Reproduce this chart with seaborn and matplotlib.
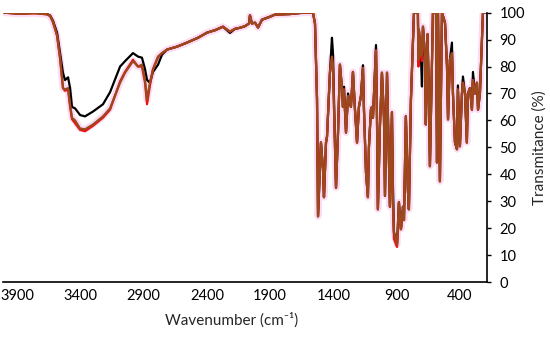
import matplotlib
matplotlib.use("Agg")
import matplotlib.pyplot as plt
import seaborn as sns
import pandas as pd

# wavenumber (cm-1) and transmittance (%) of the three spectra
wavenumber = [
    4000, 3876, 3758, 3663, 3639, 3616, 3584, 3560, 3537, 3521,
    3497, 3481, 3466, 3442, 3402, 3363, 3300, 3221, 3165, 3086,
    3047, 2984, 2944, 2913, 2889, 2873, 2850, 2826, 2786, 2755,
    2715, 2636, 2557, 2470, 2399, 2336, 2273, 2218, 2178, 2139,
    2099, 2067, 2060, 2044, 2020, 1996, 1965, 1902, 1862, 1744,
    1641, 1562, 1546, 1530, 1522, 1499, 1483, 1475, 1459, 1451,
    1428, 1412, 1404, 1380, 1364, 1349, 1333, 1325, 1317, 1301,
    1285, 1278, 1262, 1246, 1230, 1214, 1199, 1183, 1167, 1159,
    1143, 1128, 1120, 1104, 1096, 1088, 1064, 1056, 1049, 1033,
    1017, 1001, 993, 977, 969, 954, 938, 930, 922, 898,
    891, 883, 867, 851, 843, 828, 812, 804, 788, 764,
    733, 729, 725, 709, 701, 693, 677, 670, 657, 646,
    638, 622, 614, 590, 582, 574, 559, 543, 519, 503,
    495, 480, 464, 456, 440, 424, 417, 401, 385, 377,
    361, 346, 338, 322, 306, 298, 282, 266, 258, 243,
    227, 219, 195,
]

t_black = [
    100, 99.7, 100, 99.5, 99, 97, 92.6, 85, 77.6, 75,
    76, 72, 65, 64.5, 62, 61.5, 63.3, 66, 70.5, 80,
    82, 85, 83.7, 83.3, 79, 75, 74, 78, 80.7, 84.4,
    86.3, 87.4, 88.9, 90.7, 92.6, 93.5, 94.8, 92.5, 94, 94.4,
    95, 96, 99, 96, 96.3, 94.5, 97.4, 98.5, 99.3, 99.5,
    100, 100, 96, 67.8, 24.4, 51.8, 42, 31.5, 51.8, 54,
    77.7, 90.7, 85, 35, 55.5, 80.7, 72, 65, 72.5, 55.5,
    70, 68, 65, 78, 64, 51.8, 65, 69, 80.5, 64,
    40.7, 31.5, 50, 64, 65, 61, 88, 60, 27, 57.8,
    77.7, 61, 32, 77.7, 61, 28, 63, 35.5, 18.5, 14,
    21, 29.6, 19.6, 28, 23, 61.5, 34, 27, 67.8, 100,
    100, 82.6, 93.7, 84, 72.6, 94.8, 84, 58.5, 92, 70,
    43, 80, 100, 100, 44.4, 100, 37.4, 100, 96.3, 80,
    60.4, 82.6, 88.9, 70, 51.8, 49.3, 73, 50.4, 70, 76.3,
    70, 51.8, 70, 72, 64, 78, 70, 74, 64, 70,
    90, 100, 100,
]

t_red = [
    100, 99.6, 99.8, 99.4, 98.8, 96.5, 91.5, 83, 72, 71,
    71.5, 65, 60.5, 59, 56.5, 56, 58, 61, 64, 74.5,
    78, 82.5, 80, 80, 74, 66, 73, 79, 83.5, 85,
    86.3, 87.4, 88.9, 90.7, 92.6, 93.5, 94.8, 93, 94, 94.4,
    95, 96, 99, 96, 96.3, 94.5, 97.4, 98.5, 99.3, 99.5,
    100, 100, 96, 67.8, 24.4, 51.8, 42, 31.5, 51.8, 54,
    77.7, 83, 80, 35, 55.5, 80.7, 72, 65, 71.5, 55.5,
    69, 68, 65, 78, 64, 51.8, 65, 69, 79.5, 64,
    40.7, 31.5, 50, 64, 65, 61, 86, 60, 27, 57.8,
    77.7, 61, 32, 77.7, 61, 28, 63, 28, 16, 13,
    18, 29.6, 19.6, 25, 23, 61.5, 34, 27, 67.8, 100,
    100, 80, 93.7, 84, 82, 94.8, 84, 58.5, 92, 70,
    43, 80, 100, 100, 44.4, 100, 37.4, 100, 96.3, 80,
    60.4, 82.6, 84, 70, 51.8, 49.3, 71.5, 50.4, 70, 74,
    70, 51.8, 70, 72, 64, 75, 70, 74, 64, 70,
    90, 100, 100,
]

t_brown = [
    100, 99.6, 99.8, 99.4, 98.8, 96.5, 91.5, 83, 72, 71.5,
    72, 66, 61, 60, 57, 56.7, 58.5, 61.5, 64.5, 74,
    77.7, 82, 80, 80.7, 75, 67.8, 74, 79, 83.7, 85,
    86.3, 87.4, 88.9, 90.7, 92.6, 93.5, 94.8, 93, 94, 94.4,
    95, 96, 99, 96, 96.3, 94.5, 97.4, 98.5, 99.3, 99.5,
    100, 100, 96, 67.8, 24.4, 51.8, 42, 31.5, 51.8, 54,
    77.7, 83.7, 80, 35, 55.5, 80.7, 72, 65, 71.5, 55.5,
    69, 68, 65, 78, 64, 51.8, 65, 69, 79.5, 64,
    40.7, 31.5, 50, 64, 65, 61, 86, 60, 27, 57.8,
    77.7, 61, 32, 77.7, 61, 28, 63, 30, 18.5, 14,
    21, 29.6, 19.6, 28, 23, 61.5, 34, 27, 67.8, 100,
    100, 82.6, 93.7, 84, 85, 94.8, 84, 58.5, 92, 70,
    43, 80, 100, 100, 44.4, 100, 37.4, 100, 96.3, 80,
    60.4, 82.6, 85, 70, 51.8, 49.3, 71.5, 50.4, 70, 74,
    70, 51.8, 70, 72, 64, 75, 70, 74, 64, 70,
    90, 100, 100,
]

x_ticks = [3900, 3400, 2900, 2400, 1900, 1400, 900, 400]
y_ticks = [0, 10, 20, 30, 40, 50, 60, 70, 80, 90, 100]

df = pd.DataFrame({"wn": wavenumber, "black": t_black, "red": t_red, "brown": t_brown})

sns.set_style("white")
plt.rcParams["font.family"] = ["Lato", "DejaVu Sans"]

fig = plt.figure(figsize=(5.5, 3.44), dpi=100)
ax = fig.add_axes([3 / 550, 1 - 282 / 344, 484 / 550, 269.3 / 344])

# faint pink halo seen around the traces
sns.lineplot(data=df, x="wn", y="brown", color="#fbdcf4", lw=5, ax=ax, sort=False, estimator=None)
sns.lineplot(data=df, x="wn", y="black", color="black", lw=1.6, ax=ax, sort=False, estimator=None)
sns.lineplot(data=df, x="wn", y="red", color="#f01010", lw=1.6, ax=ax, sort=False, estimator=None)
sns.lineplot(data=df, x="wn", y="brown", color="#9a4a1c", lw=1.6, ax=ax, sort=False, estimator=None)

ax.set_xlim(4011, 187)
ax.set_ylim(0, 100)
ax.set_xticks(x_ticks)
ax.set_xticklabels([str(v) for v in x_ticks])
ax.set_yticks(y_ticks)

for s in ["top", "left"]:
    ax.spines[s].set_visible(False)
for s in ["bottom", "right"]:
    ax.spines[s].set_color("black")
    ax.spines[s].set_linewidth(1.2)

ax.yaxis.tick_right()
ax.yaxis.set_label_position("right")
ax.tick_params(axis="x", length=0, pad=5, labelsize=10.5, colors="black")
ax.tick_params(axis="y", direction="out", length=3, width=1, pad=6, labelsize=10.5, colors="black")

ax.set_xlabel("Wavenumber (cm⁻¹)", fontsize=11)
ax.xaxis.set_label_coords((232 - 3) / 484, -0.141)
ax.xaxis.label.set_va("center")
ax.set_ylabel("Transmitance (%)", fontsize=11, rotation=90)
ax.yaxis.set_label_coords((540 - 3) / 484, 0.5)
ax.yaxis.label.set_va("center")

fig.savefig("out.png", dpi=100)
